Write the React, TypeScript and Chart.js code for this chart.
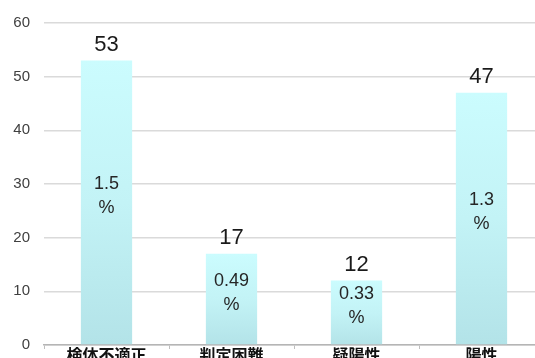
import React, { useEffect, useRef } from "react";
import { Chart, registerables } from "chart.js";

Chart.register(...registerables);

// 判定区分ごとの件数と割合
const categories = ["検体不適正", "判定困難", "疑陽性", "陽性"];
const counts = [53, 17, 12, 47];
const rates = ["1.5", "0.49", "0.33", "1.3"];
const yTicks = [0, 10, 20, 30, 40, 50, 60];

const LATIN = '"Liberation Sans", Arial, Helvetica, sans-serif';
const CJK = '"Noto Sans CJK JP", "Noto Sans CJK SC", sans-serif';

// Draws the count above each bar and the rate (with % on its own line) inside it.
const barLabels = {
  id: "barLabels",
  afterDatasetsDraw(chart: any) {
    const ctx = chart.ctx;
    const meta = chart.getDatasetMeta(0);
    ctx.save();
    ctx.textAlign = "center";
    ctx.textBaseline = "middle";
    meta.data.forEach((bar: any, i: number) => {
      const { x, y, base } = bar.getProps(["x", "y", "base"], true);
      ctx.fillStyle = "#1a1a1a";
      ctx.font = `22px ${LATIN}`;
      ctx.fillText(String(counts[i]), x, y - 16);

      const mid = (y + base) / 2 - 6;
      ctx.fillStyle = "#262626";
      ctx.font = `18px ${LATIN}`;
      ctx.fillText(rates[i], x, mid - 12);
      ctx.fillText("%", x, mid + 12);
    });
    ctx.restore();
  },
};

export default function App() {
  const canvasRef = useRef<HTMLCanvasElement | null>(null);

  useEffect(() => {
    const canvas = canvasRef.current;
    if (!canvas) return;

    const chart = new Chart(canvas, {
      type: "bar",
      data: {
        labels: categories,
        datasets: [
          {
            data: counts,
            backgroundColor: (c: any) => {
              const fallback = "#c2f1f4";
              const chart = c.chart;
              const y = chart.scales?.y;
              if (!chart.chartArea || !y || c.dataIndex === undefined) return fallback;
              const top = y.getPixelForValue(counts[c.dataIndex]);
              const bottom = y.getPixelForValue(0);
              if (!Number.isFinite(top) || !Number.isFinite(bottom) || top === bottom) return fallback;
              const g = chart.ctx.createLinearGradient(0, top, 0, bottom);
              g.addColorStop(0, "#cbfcfe");
              g.addColorStop(0.5, "#c3f3f6");
              g.addColorStop(1, "#b3e3e8");
              return g;
            },
            borderWidth: 0,
            categoryPercentage: 1,
            barPercentage: 0.41,
          },
        ],
      },
      options: {
        responsive: false,
        animation: false,
        events: [],
        layout: { padding: { top: 23, right: 0, bottom: 0, left: 0 } },
        plugins: {
          legend: { display: false },
          tooltip: { enabled: false },
          title: { display: false },
        },
        scales: {
          x: {
            grid: {
              display: true,
              drawOnChartArea: false,
              drawTicks: true,
              tickLength: 4,
              color: "#bfbfbf",
              offset: true,
            },
            border: { display: true, color: "#b5b5b5", width: 1.5 },
            ticks: {
              color: "#111111",
              padding: -4,
              font: { family: CJK, size: 16, weight: "bold" },
            },
          },
          y: {
            min: 0,
            max: 60,
            afterFit: (scale: any) => {
              scale.width = 44;
            },
            afterBuildTicks: (scale: any) => {
              scale.ticks = yTicks.map((v) => ({ value: v }));
            },
            grid: {
              color: "#dadada",
              lineWidth: 1.5,
              drawTicks: false,
            },
            border: { display: false },
            ticks: {
              color: "#404040",
              padding: 14,
              font: { family: LATIN, size: 15 },
            },
          },
        },
      },
      plugins: [barLabels],
    });

    return () => chart.destroy();
  }, []);

  return (
    <div
      style={{
        position: "fixed",
        left: 0,
        top: 0,
        width: 535,
        height: 358,
        overflow: "hidden",
        background: "#ffffff",
      }}
    >
      <canvas ref={canvasRef} width={544} height={368} style={{ display: "block" }} />
    </div>
  );
}
